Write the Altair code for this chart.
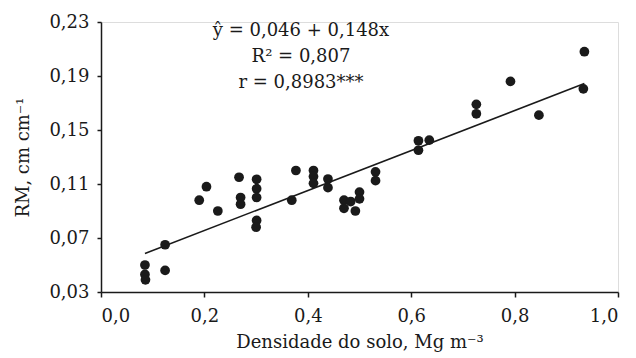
import altair as alt
import pandas as pd

# Scatter data: soil density (x) vs RM (y)
dens = [0.085, 0.085, 0.086, 0.124, 0.124, 0.190, 0.204, 0.226, 0.267, 0.270,
        0.270, 0.301, 0.301, 0.301, 0.301, 0.300, 0.369, 0.377, 0.411, 0.411,
        0.411, 0.439, 0.439, 0.470, 0.470, 0.483, 0.492, 0.500, 0.500, 0.531,
        0.531, 0.614, 0.614, 0.635, 0.726, 0.726, 0.792, 0.847, 0.935, 0.933]
rm = [0.050, 0.043, 0.039, 0.065, 0.046, 0.098, 0.108, 0.090, 0.115, 0.100,
      0.095, 0.1135, 0.1065, 0.100, 0.083, 0.078, 0.098, 0.120, 0.120, 0.1155,
      0.1105, 0.1137, 0.1073, 0.098, 0.092, 0.097, 0.090, 0.104, 0.099, 0.119,
      0.1125, 0.142, 0.135, 0.1425, 0.169, 0.162, 0.186, 0.161, 0.208, 0.1805]

# Regression coefficients
intercept = 0.046
slope = 0.148

eq_lines = ["\u0177 = 0,046 + 0,148x", "R\u00b2 = 0,807", "r = 0,8983***"]

x_ticks = [0.0, 0.2, 0.4, 0.6, 0.8, 1.0]
y_ticks = [0.03, 0.07, 0.11, 0.15, 0.19, 0.23]

FONT = "DejaVu Serif"
INK = "#1a1a1a"
FS = 18

df = pd.DataFrame({"dens": dens, "rm": rm})
xmin, xmax = min(dens), max(dens)
line_df = pd.DataFrame({"dens": [xmin, xmax],
                        "rm": [intercept + slope * xmin, intercept + slope * xmax]})

xscale = alt.Scale(domain=[0, 1.0], nice=False, zero=False)
yscale = alt.Scale(domain=[0.03, 0.23], nice=False, zero=False)

xaxis = alt.Axis(
    title="Densidade do solo, Mg m\u207b\u00b3",
    values=x_ticks,
    labelExpr="replace(format(datum.value, '.1f'), '.', ',')",
    grid=False, domainColor=INK, domainWidth=1.5, tickColor=INK, tickWidth=1.5,
    tickSize=5, labelFont=FONT, labelFontSize=FS, labelColor=INK, labelPadding=10,
    titleFont=FONT, titleFontSize=FS, titleFontWeight="normal", titleColor=INK,
    titlePadding=8,
)
yaxis = alt.Axis(
    title="RM, cm cm\u207b\u00b9",
    values=y_ticks,
    labelExpr="replace(format(datum.value, '.2f'), '.', ',')",
    grid=False, domainColor=INK, domainWidth=1.5, tickColor=INK, tickWidth=1.5,
    tickSize=4, labelFont=FONT, labelFontSize=FS, labelColor=INK, labelPadding=8,
    titleFont=FONT, titleFontSize=FS, titleFontWeight="normal", titleColor=INK,
    titleX=-78, titleY=135, titleBaseline="middle",
)

points = alt.Chart(df).mark_circle(size=95, color=INK, opacity=1).encode(
    x=alt.X("dens:Q", scale=xscale, axis=xaxis),
    y=alt.Y("rm:Q", scale=yscale, axis=yaxis),
)

line = alt.Chart(line_df).mark_line(color=INK, strokeWidth=1.6).encode(
    x=alt.X("dens:Q", scale=xscale),
    y=alt.Y("rm:Q", scale=yscale),
)

eq_layers = []
for txt, ypix in zip(eq_lines, [9, 35, 61]):
    eq_layers.append(
        alt.Chart(pd.DataFrame({"label": [txt]})).mark_text(
            font=FONT, fontSize=FS, color=INK, align="center", baseline="middle"
        ).encode(x=alt.value(200), y=alt.value(ypix), text="label:N")
    )

chart = alt.layer(points, line, *eq_layers).properties(
    width=517, height=270,
    autosize=alt.AutoSizeParams(type="none"),
    padding={"left": 101, "top": 22, "right": 18, "bottom": 66},
).configure_view(stroke=None).configure(background="white")

chart.save("out.html", embed_options={"renderer": "svg", "actions": False})
